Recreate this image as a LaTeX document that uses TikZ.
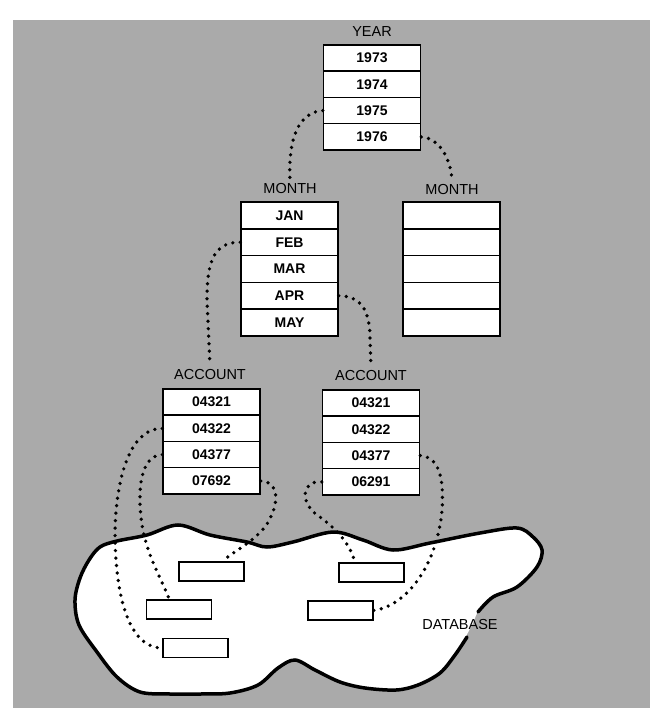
\documentclass[tikz,border=0pt]{standalone}
\usepackage{fontspec}
\setmainfont{Liberation Sans}
\usepackage{tikz}

\definecolor{stipple}{RGB}{170,170,170}

\begin{document}
\begin{tikzpicture}[x=1pt, y=-1pt,
  cell/.style={draw, fill=white, line width=1.5pt, minimum width=97pt, minimum height=26.5pt, inner sep=0pt, font=\fontsize{14}{16}\selectfont\bfseries},
  tablabel/.style={inner xsep=1pt, inner ysep=4pt, font=\fontsize{14.5}{16}\selectfont},
  record/.style={draw, fill=white, line width=1.3pt, minimum width=65pt, minimum height=19pt, inner sep=0pt},
  link/.style={line width=3.7pt, line cap=round, dash pattern=on 0pt off 7.5pt}]

% page and stippled background (coordinates in pixels, y downwards)
\useasboundingbox (0,0) rectangle (652,708);
\fill[stipple] (13,20) rectangle (650,708);

% YEAR table
\node[tablabel] (year) at (372,32) {YEAR};
\node[cell] (y1973) at (372,58.1) {1973};
\node[cell] (y1974) at (372,84.4) {1974};
\node[cell] (y1975) at (372,110.6) {1975};
\node[cell] (y1976) at (372,136.9) {1976};

% MONTH tables
\node[tablabel] (montha) at (290,189) {MONTH};
\node[cell, minimum height=26.8pt] (mjan) at (289.5,215.4) {JAN};
\node[cell, minimum height=26.8pt] (mfeb) at (289.5,242.2) {FEB};
\node[cell, minimum height=26.8pt] (mmar) at (289.5,269.0) {MAR};
\node[cell, minimum height=26.8pt] (mapr) at (289.5,295.8) {APR};
\node[cell, minimum height=26.8pt] (mmay) at (289.5,322.6) {MAY};

\node[tablabel] (monthb) at (452,190) {MONTH};
\node[cell, minimum height=26.8pt] (mb1) at (451.5,215.4) {};
\node[cell, minimum height=26.8pt] (mb2) at (451.5,242.2) {};
\node[cell, minimum height=26.8pt] (mb3) at (451.5,269.0) {};
\node[cell, minimum height=26.8pt] (mb4) at (451.5,295.8) {};
\node[cell, minimum height=26.8pt] (mb5) at (451.5,322.6) {};

% ACCOUNT tables
\node[tablabel] (accounta) at (210,375) {ACCOUNT};
\node[cell] (acca1) at (211.5,402.1) {04321};
\node[cell] (acca2) at (211.5,428.4) {04322};
\node[cell] (acca3) at (211.5,454.6) {04377};
\node[cell] (acca4) at (211.5,480.9) {07692};

\node[tablabel] (accountb) at (371,376) {ACCOUNT};
\node[cell] (accb1) at (371,403.1) {04321};
\node[cell] (accb2) at (371,429.4) {04322};
\node[cell] (accb3) at (371,455.6) {04377};
\node[cell] (accb4) at (371,481.9) {06291};

% database blob, open where the label crosses it
\fill[white] plot[smooth cycle, tension=0.55] coordinates {
  (472,625) (455,655) (440,673) (418,685) (396,690) (365,688) (340,682)
  (315,670) (295,660) (278,668) (258,685) (230,693) (200,694) (170,694)
  (140,692) (117,677) (97,652) (79,625) (75,600) (80,578) (89,560)
  (100,547) (117,541) (147,535) (178,525) (210,535) (247,542) (267,547)
  (293,542) (333,532) (363,540) (393,550) (430,543) (480,533) (517,528)
  (533,537) (542,550) (537,567) (517,587) (493,597) (478,612)};
\draw[line width=3.5pt, line cap=round] plot[smooth, tension=0.55] coordinates {
  (467,637) (455,655) (440,673) (418,685) (396,690) (365,688) (340,682)
  (315,670) (295,660) (278,668) (258,685) (230,693) (200,694) (170,694)
  (140,692) (117,677) (97,652) (79,625) (75,600) (80,578) (89,560)
  (100,547) (117,541) (147,535) (178,525) (210,535) (247,542) (267,547)
  (293,542) (333,532) (363,540) (393,550) (430,543) (480,533) (517,528)
  (533,537) (542,550) (537,567) (517,587) (493,597) (478,612)};
\node[tablabel] (database) at (460,625) {DATABASE};

% records in the database
\node[record] (rec1) at (211.5,571.5) {};
\node[record] (rec2) at (179,609.5) {};
\node[record] (rec3) at (195.5,648) {};
\node[record] (rec4) at (371.5,572.5) {};
\node[record] (rec5) at (340.5,610.5) {};

% dotted links
\draw[link] (y1975.west) .. controls (298,112) and (288,140) .. (montha.north);
\draw[link] (y1976.east) .. controls (440,138) and (451,160) .. (monthb.north);
\draw[link] (mfeb.west) .. controls (212,242) and (207,265) .. (207,300) -- (accounta.north);
\draw[link] (mapr.east) .. controls (366,296) and (370,318) .. (370,340) -- (accountb.north);

\draw[link] (acca2.west) .. controls (135,428) and (117,465) .. (115,530)
  .. controls (115,600) and (130,648) .. (rec3.west);
\draw[link] (acca3.west) .. controls (140,456) and (137,490) .. (142,525)
  .. controls (148,560) and (165,585) .. ([xshift=-10pt]rec2.north);
\draw[link] (acca4.east) .. controls (280,482) and (280,505) .. (265,527)
  .. controls (250,545) and (230,553) .. ([xshift=11.5pt]rec1.north);
\draw[link] (accb4.west) .. controls (300,480) and (300,505) .. (320,517)
  .. controls (340,532) and (350,545) .. ([xshift=-16.5pt]rec4.north);
\draw[link] (accb3.east) .. controls (440,457) and (444,480) .. (442,510)
  .. controls (438,560) and (410,605) .. (rec5.east);

\end{tikzpicture}
\end{document}
